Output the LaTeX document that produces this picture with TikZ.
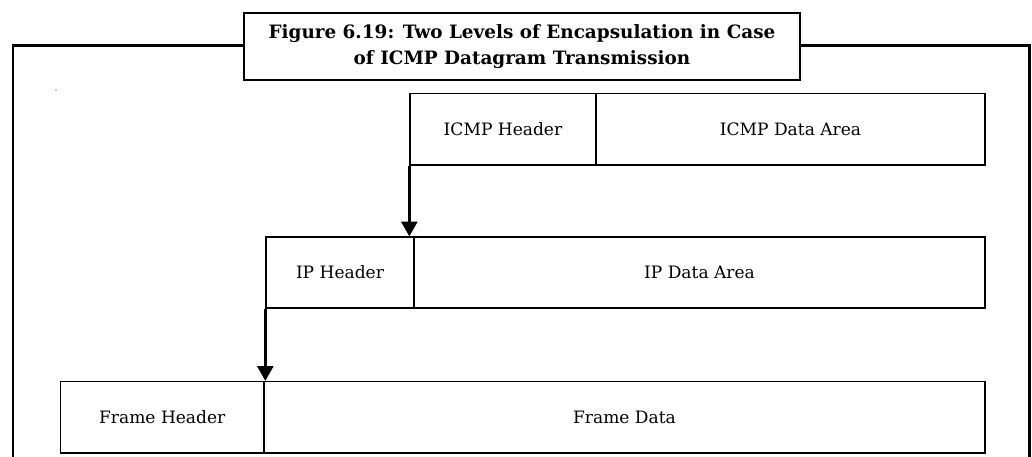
\documentclass[tikz,border=0pt]{standalone}
\usepackage{fontspec}
\setmainfont{DejaVu Serif}
\usetikzlibrary{arrows.meta}
\newcommand{\cellfont}{\fontsize{12.8pt}{15pt}\selectfont}
\newcommand{\ttlfont}{\bfseries\fontsize{13.8pt}{19.5pt}\selectfont}
\begin{document}
\begin{tikzpicture}[x=0.75pt,y=-0.75pt,
  cell/.style={draw, line width=1pt, inner sep=0pt, font=\cellfont},
  arr/.style={line width=1.9pt, -{Triangle[width=12pt,length=11pt]}},
  frame/.style={line width=2pt},
  titlebox/.style={draw, line width=2pt, fill=white, inner sep=0pt, align=center, font=\ttlfont}]
\useasboundingbox[fill=white] (0,0) rectangle (1032,457);
% outer frame
\draw[frame] (13,457) -- (13,45.5) -- (1029.5,45.5) -- (1029.5,457);
% title
\node[titlebox, minimum width={556*0.75pt}, minimum height={67*0.75pt}] (title) at (522,46.5)
  {Figure 6.19: Two Levels of Encapsulation in Case\\of ICMP Datagram Transmission};
% stray dot
\fill (56,90) circle (0.6);
% ICMP row
\node[cell, minimum width={186*0.75pt}, minimum height={71.5*0.75pt}] (icmph) at (503,129.25) {ICMP Header};
\node[cell, minimum width={389*0.75pt}, minimum height={71.5*0.75pt}] (icmpd) at (790.5,129.25) {ICMP Data Area};
% IP row
\node[cell, minimum width={148*0.75pt}, minimum height={71*0.75pt}] (iph) at (340,272.5) {IP Header};
\node[cell, minimum width={571*0.75pt}, minimum height={71*0.75pt}] (ipd) at (699.5,272.5) {IP Data Area};
% Frame row
\node[cell, minimum width={203.5*0.75pt}, minimum height={71.5*0.75pt}] (frh) at (162.25,417.25) {Frame Header};
\node[cell, minimum width={721*0.75pt}, minimum height={71.5*0.75pt}] (frd) at (624.5,417.25) {Frame Data};
% arrows
\draw[arr] (icmph.south west) -- (icmph.south west |- iph.north);
\draw[arr] (iph.south west) -- (iph.south west |- frh.north);
\end{tikzpicture}
\end{document}
